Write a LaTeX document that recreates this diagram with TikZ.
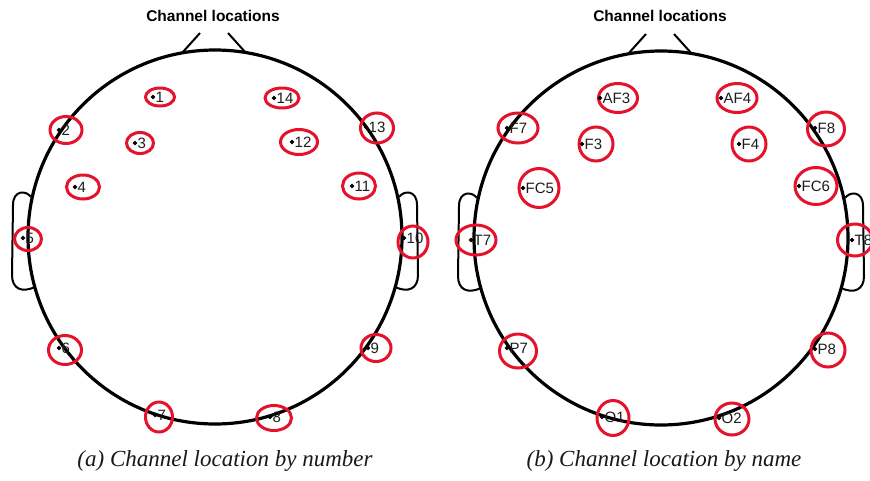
\documentclass[tikz,border=0pt]{standalone}
\usepackage{fontspec}
\usetikzlibrary{shapes.geometric}
\newfontfamily\labelfont{Liberation Sans}
\newfontfamily\titlefont{Liberation Sans}
\newfontfamily\capfont{Liberation Serif}
\definecolor{eegred}{RGB}{228,18,42}
\definecolor{labgray}{RGB}{30,30,30}
\tikzset{
  headline/.style={line width=3.2pt, black},
  earline/.style={line width=2pt, black, line join=round},
  ring/.style={ellipse, draw=eegred, line width=3pt, inner sep=0pt},
  chdot/.style={diamond, fill=black, inner sep=0pt, minimum size=5pt},
  chlabel/.style={anchor=west, inner sep=0pt, text=labgray, font=\labelfont\fontsize{15}{15}\selectfont},
  heading/.style={font=\titlefont\bfseries\fontsize{15.5}{15.5}\selectfont},
  caption/.style={font=\capfont\itshape\fontsize{23}{25}\selectfont, text=black!90}
}
% #1 name, #2 ring centre, #3 ring width, #4 ring height, #5 dot position, #6 label
\newcommand\electrode[6]{%
  \node[ring, minimum width=#3pt, minimum height=#4pt] (ring#1) at (#2) {};
  \node[chdot] (dot#1) at (#5) {};
  \node[chlabel] (lab#1) at ([xshift=2.5pt]dot#1.center) {#6};
}
% head outline (circle, nose, ears) centred at (215,237)
\newcommand\headoutline{%
  \draw[headline] (215,237) circle (187pt);
  \draw[earline] (182,53) -- (200,33);
  \draw[earline] (228,33) -- (246,53);
  \draw[earline] (31,197) .. controls (26,190) and (13,190) .. (13,205)
     -- (12,275) .. controls (12,289) and (22,293) .. (35,287);
  \draw[earline] (399,197) .. controls (404,190) and (417,190) .. (417,205)
     -- (418,275) .. controls (418,289) and (408,293) .. (395,287);
}
\begin{document}
\begin{tikzpicture}[x=1pt,y=-1pt]
\useasboundingbox (0,0) rectangle (870,480);
\fill[white] (0,0) rectangle (870,480);

% ---------- left head: channels by number ----------
\headoutline
\node[heading] (titleA) at (213,16) {Channel locations};
\electrode{n1}{160,97}{29}{18}{153,97}{1}
\electrode{n2}{66,130}{32}{27}{59,130}{2}
\electrode{n3}{140,143}{27}{21}{135,143}{3}
\electrode{n4}{83,187}{33}{24}{75,187}{4}
\electrode{n5}{28,239}{27}{23}{23,238}{5}
\electrode{n6}{65,350}{33}{29}{59,348}{6}
\electrode{n7}{159,417}{27}{30}{155,415}{7}
\electrode{n8}{274,418}{35}{25}{270,417}{8}
\electrode{n9}{376,348}{30}{27}{368,348}{9}
\electrode{n10}{413,242}{30}{32}{404,238}{10}
\electrode{n11}{359,186}{33}{26}{352,186}{11}
\electrode{n12}{299,142}{37}{25}{292,142}{12}
\electrode{n13}{377,128}{33}{30}{366,127}{13}
\electrode{n14}{282,98}{34}{20}{274,98}{14}
\node[caption] (capA) at (225,461) {(a) Channel location by number};

% ---------- right head: channels by name ----------
\begin{scope}[xshift=446pt, yshift=-1pt]
  \headoutline
\end{scope}
\node[heading] (titleB) at (660,16) {Channel locations};
\electrode{AF3}{618,98}{39}{29}{600,98}{AF3}
\electrode{F7}{518,128}{40}{30}{507,128}{F7}
\electrode{F3}{596,144}{34}{34}{582,144}{F3}
\electrode{FC5}{539,188}{40}{39}{523,188}{FC5}
\electrode{T7}{476,240}{40}{30}{471,240}{T7}
\electrode{P7}{518,351}{37}{34}{507,348}{P7}
\electrode{O1}{613,418}{32}{35}{602,417}{O1}
\electrode{O2}{732,419}{34}{32}{719,418}{O2}
\electrode{P8}{828,350}{34}{34}{815,349}{P8}
\electrode{T8}{855,240}{35}{32}{852,240}{T8}
\electrode{FC6}{816,186}{42}{37}{799,186}{FC6}
\electrode{F4}{749,144}{34}{34}{739,144}{F4}
\electrode{F8}{826,129}{37}{34}{815,128}{F8}
\electrode{AF4}{737,98}{40}{29}{721,98}{AF4}
\node[caption] (capB) at (664,461) {(b) Channel location by name};
\end{tikzpicture}
\end{document}
